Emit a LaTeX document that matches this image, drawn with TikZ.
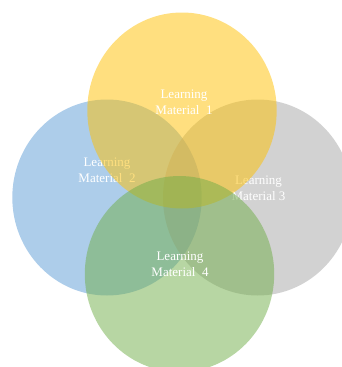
\documentclass[tikz,border=0pt]{standalone}
\usepackage{fontspec}
\setmainfont{Liberation Serif}
\usepackage{tikz}

\definecolor{matgold}{HTML}{FFC000}
\definecolor{matblue}{HTML}{5B9BD5}
\definecolor{matgray}{HTML}{A5A5A5}
\definecolor{matgreen}{HTML}{70AD47}

\tikzset{
  blob/.style={fill=#1, fill opacity=0.5, draw=none},
  matlabel/.style={text=white, align=center, inner sep=0pt,
    font=\fontsize{13}{16}\selectfont}
}

\begin{document}
\begin{tikzpicture}[x=1pt,y=-1pt]
                    \useasboundingbox (0,0) rectangle (341,367);
                    \fill [blob=matblue] (107,197.5) ellipse (94.7pt and 98pt);
                    \node [matlabel] (m2) at (107,170) {Learning\\Material\ \ 2};
                    \fill [blob=matgray] (257.7,197.5) ellipse (94.7pt and 98pt);
                    \node [matlabel] (m3) at (258.5,188) {Learning\\Material 3};
                    \fill [blob=matgold] (182,110.5) ellipse (94.7pt and 98pt);
                    \node [matlabel] (m1) at (184,102) {Learning\\Material\ \ 1};
                    \fill [blob=matgreen] (179.5,274) ellipse (94.7pt and 98pt);
                    \node [matlabel] (m4) at (180,264) {Learning\\Material\ \ 4};
                \end{tikzpicture}
\end{document}
